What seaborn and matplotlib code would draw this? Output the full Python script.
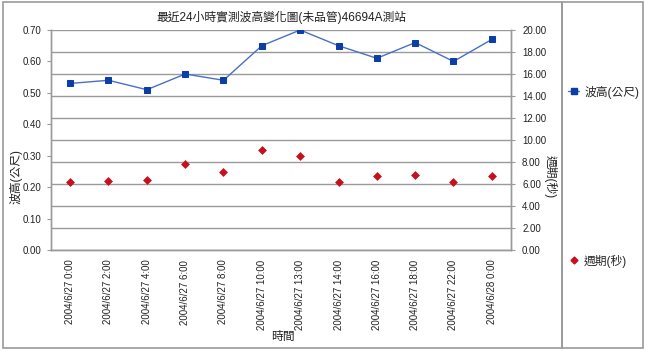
import matplotlib
matplotlib.use("Agg")
import matplotlib.pyplot as plt
import seaborn as sns
import pandas as pd
from matplotlib.patches import Rectangle
from matplotlib.lines import Line2D

times = ["2004/6/27 0:00", "2004/6/27 2:00", "2004/6/27 4:00", "2004/6/27 6:00",
         "2004/6/27 8:00", "2004/6/27 10:00", "2004/6/27 13:00", "2004/6/27 14:00",
         "2004/6/27 16:00", "2004/6/27 18:00", "2004/6/27 22:00", "2004/6/28 0:00"]
wave_height = [0.53, 0.54, 0.51, 0.56, 0.54, 0.65, 0.70, 0.65, 0.61, 0.66, 0.60, 0.67]
period = [6.2, 6.3, 6.4, 7.8, 7.1, 9.1, 8.5, 6.2, 6.7, 6.8, 6.2, 6.7]
left_ticks = [0.0, 0.1, 0.2, 0.3, 0.4, 0.5, 0.6, 0.7]
right_ticks = [0, 2, 4, 6, 8, 10, 12, 14, 16, 18, 20]

title = "最近24小時實測波高變化圖(未品管)46694A測站"
label_h = "波高(公尺)"
label_p = "週期(秒)"
label_x = "時間"

sns.set_theme(style="white")
fam = ["Liberation Sans", "Noto Sans CJK TC", "DejaVu Sans"]
plt.rcParams["font.family"] = fam

W, H = 645, 351
fig = plt.figure(figsize=(W / 100, H / 100), dpi=100)
fig.patch.set_facecolor("white")

L, R, T, B = 51, 511, 30, 250
ax = fig.add_axes([L / W, 1 - B / H, (R - L) / W, (B - T) / H])
ax2 = ax.twinx()

df = pd.DataFrame({"time": times, "h": wave_height, "p": period})

blue_line = "#4a6fc4"
blue_mark = "#0b3ea6"
red = "#c8101c"

sns.lineplot(data=df, x="time", y="h", ax=ax, sort=False, color=blue_line,
             linewidth=1.0, marker="s", markersize=4.5, markerfacecolor=blue_mark,
             markeredgecolor=blue_mark, legend=False)
sns.scatterplot(data=df, x="time", y="p", ax=ax2, marker="D", s=16, color=red,
                edgecolor=red, linewidth=0.5, legend=False)

ax.set_xlim(-0.5, len(times) - 0.5)
ax.set_ylim(0, 0.7)
ax2.set_ylim(0, 20)
ax.set_yticks(left_ticks)
ax.set_yticklabels([f"{v:.2f}" for v in left_ticks], fontsize=7, color="#222222")
ax2.set_yticks(right_ticks)
ax2.set_yticklabels([f"{v:.2f}" for v in right_ticks], fontsize=7, color="#222222")
ax.set_xticks(range(len(times)))
ax.set_xticklabels(times, rotation=90, fontsize=7, color="#222222")

ax2.grid(True, axis="y", color="#9a9a9a", linewidth=1.0)
ax.grid(False)
ax2.set_axisbelow(True)
ax.set_zorder(ax2.get_zorder() + 1)
ax.patch.set_visible(False)

for a in (ax, ax2):
    for s in a.spines.values():
        s.set_color("#9a9a9a")
        s.set_linewidth(1.0)
    a.spines["top"].set_visible(False)
ax.tick_params(axis="both", direction="out", length=3, width=0.8, color="#9a9a9a")
ax2.tick_params(axis="y", direction="out", length=3, width=0.8, color="#9a9a9a", pad=5)
ax.tick_params(axis="x", pad=4)
ax.tick_params(axis="y", pad=4)

ax.set_xlabel(label_x, fontsize=8.5, color="#222222")
ax.xaxis.set_label_coords(0.505, -0.37)
ax.set_ylabel(label_h, fontsize=8.5, color="#222222")
ax.yaxis.set_label_coords(-0.062, 0.335)
ax2.set_ylabel(label_p, fontsize=8.5, color="#222222", rotation=-90, va="center")
ax2.yaxis.set_label_coords(1.086, 0.335)

fig.text(281 / W, 1 - 17 / H, title, ha="center", va="center", fontsize=8.5, color="#222222")

# frames
fig.patches.append(Rectangle((3 / W, 1 - 348 / H), (562 - 3) / W, (348 - 2) / H,
                             transform=fig.transFigure, fill=False, edgecolor="#9a9a9a", linewidth=1.2))
fig.patches.append(Rectangle((562 / W, 1 - 348 / H), (643 - 562) / W, (348 - 2) / H,
                             transform=fig.transFigure, fill=False, edgecolor="#9a9a9a", linewidth=1.2))

# legend entries
h1 = Line2D([], [], color=blue_line, linewidth=1.0, marker="s", markersize=4.5,
            markerfacecolor=blue_mark, markeredgecolor=blue_mark)
h2 = Line2D([], [], color=red, linestyle="none", marker="D", markersize=3.5)
fig.legend([h1], [label_h], loc="center left", bbox_to_anchor=(557 / W, 1 - 92 / H),
           frameon=False, fontsize=8.5, handlelength=1.0, handletextpad=0.4)
fig.legend([h2], [label_p], loc="center left", bbox_to_anchor=(557 / W, 1 - 261 / H),
           frameon=False, fontsize=8.5, handlelength=1.0, handletextpad=0.4)

fig.savefig("out.png", dpi=100, facecolor="white")
